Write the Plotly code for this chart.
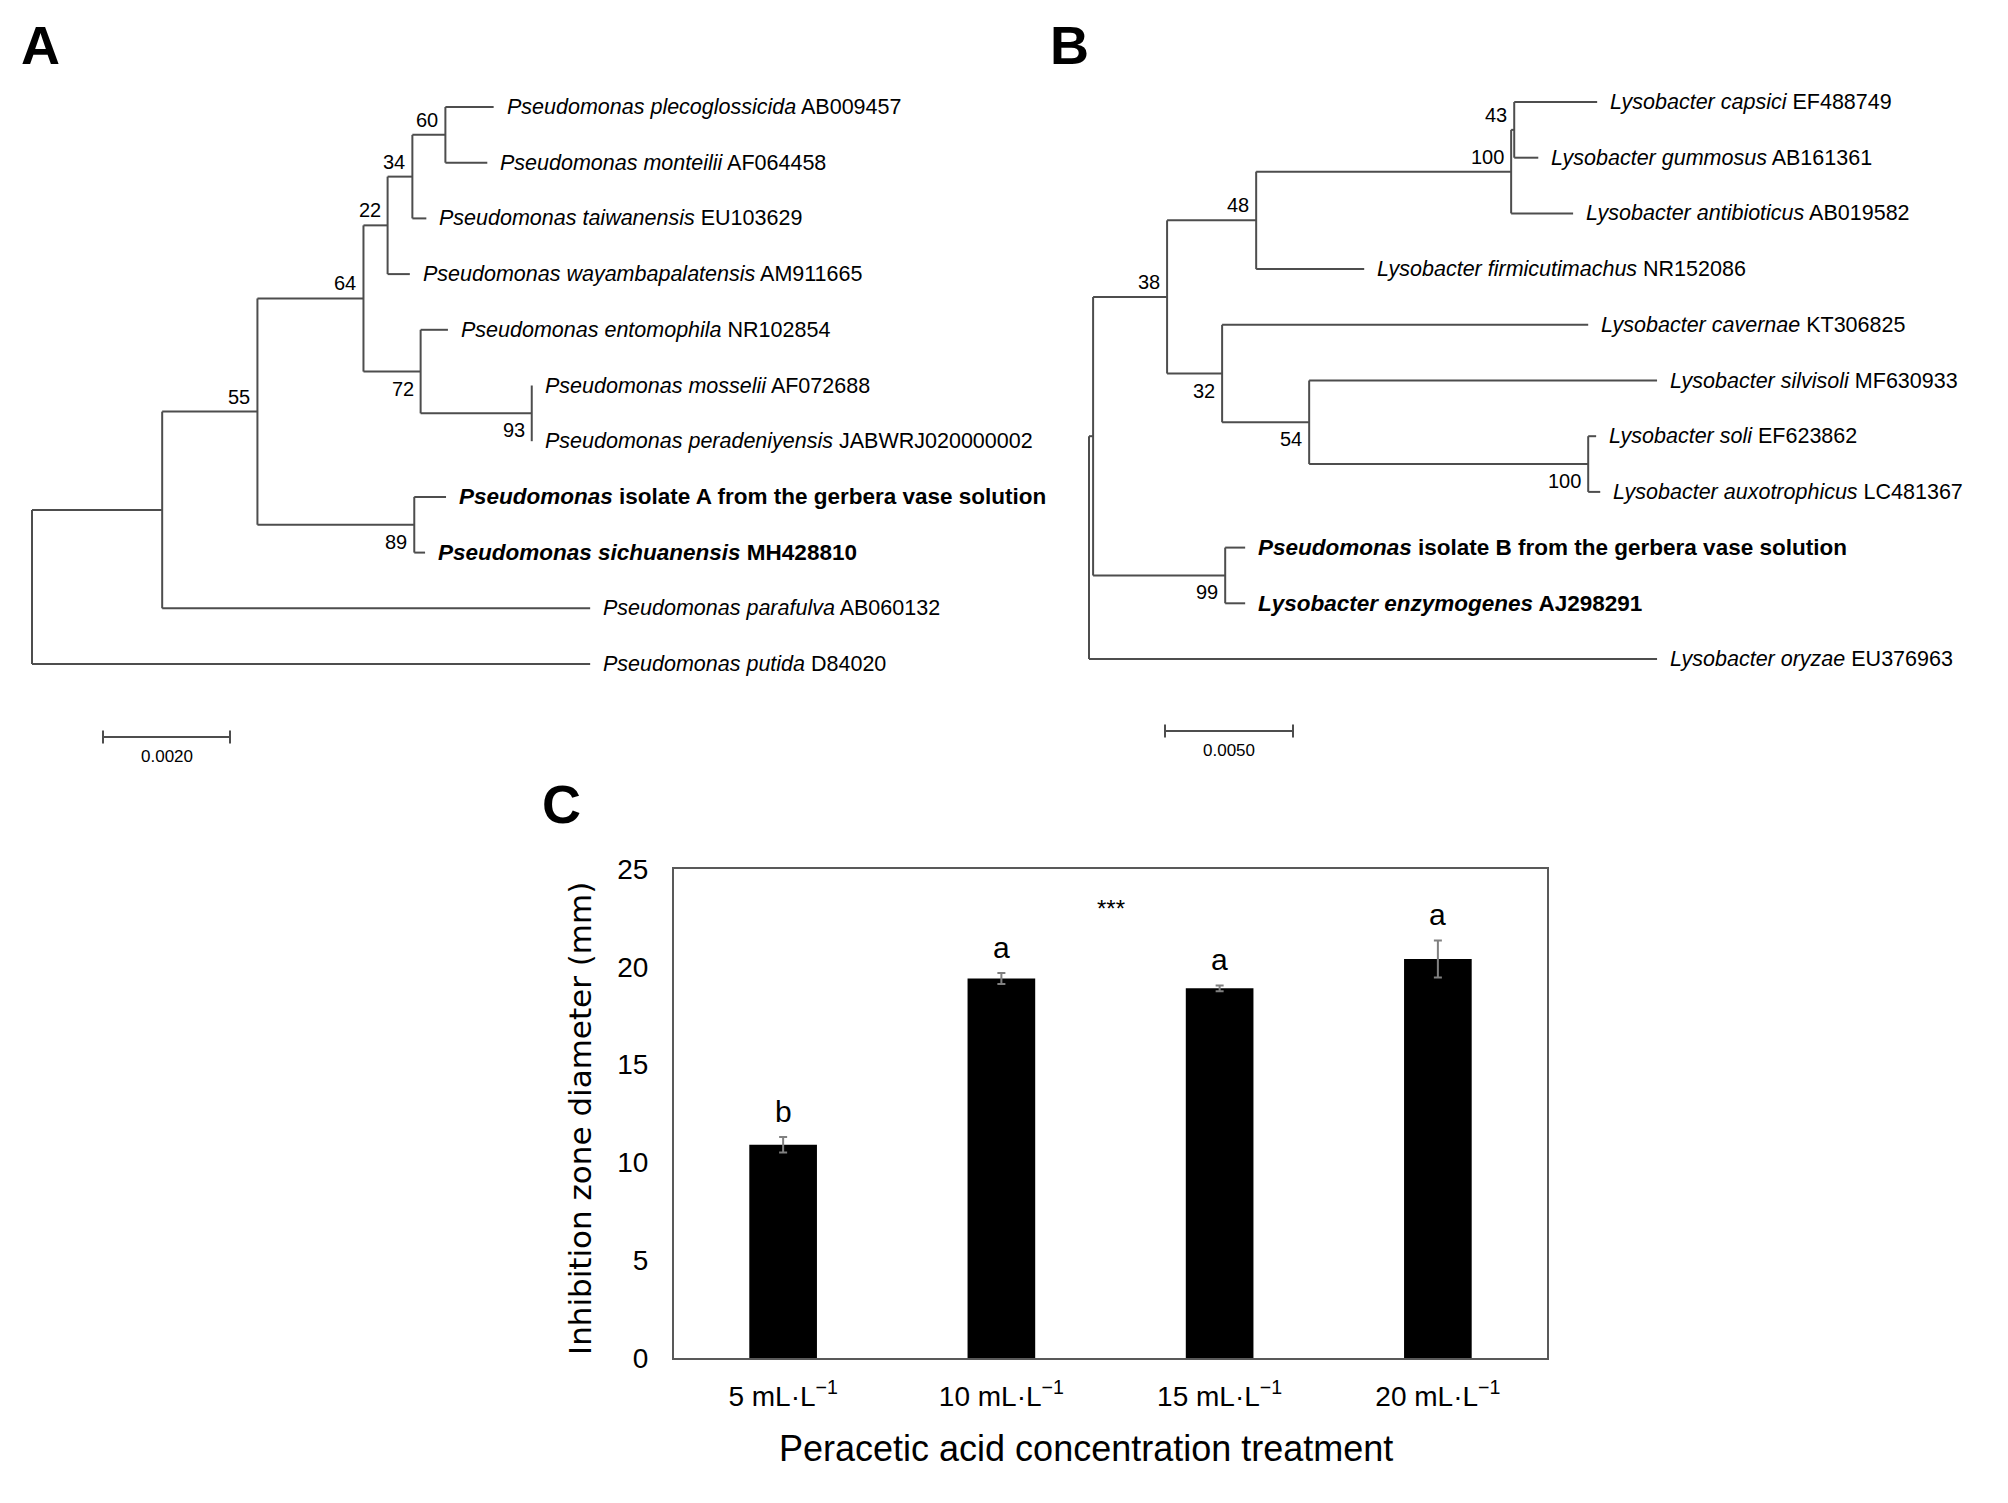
import plotly.graph_objects as go

# ================================================================
# Data
# ================================================================
# Tree A (Pseudomonas) - parent index, branch length (subst./site), bootstrap
a_parent = [-1, 0, 1, 2, 3, 4, 5, 6, 6, 5, 4, 3, 11, 11, 13, 13, 2, 16, 16, 1, 0]
a_length = [0, 0.00205, 0.00150, 0.00167, 0.00038, 0.00039, 0.00052, 0.00076,
            0.00066, 0.00022, 0.00035, 0.00090, 0.00043, 0.00175, 0.0, 0.0,
            0.00247, 0.00050, 0.00017, 0.00674, 0.00879]
a_support = [None, None, 55, 64, 22, 34, 60, None, None, None, None, 72, None,
             93, None, None, 89, None, None, None, None]
# leaves in tree order
a_species = ["Pseudomonas plecoglossicida", "Pseudomonas monteilii",
             "Pseudomonas taiwanensis", "Pseudomonas wayambapalatensis",
             "Pseudomonas entomophila", "Pseudomonas mosselii",
             "Pseudomonas peradeniyensis", "Pseudomonas",
             "Pseudomonas sichuanensis", "Pseudomonas parafulva",
             "Pseudomonas putida"]
a_suffix = ["AB009457", "AF064458", "EU103629", "AM911665", "NR102854",
            "AF072688", "JABWRJ020000002",
            "isolate A from the gerbera vase solution", "MH428810",
            "AB060132", "D84020"]
a_bold = [False, False, False, False, False, False, False, True, True, False, False]
a_scale = 0.0020

# Tree B (Lysobacter)
b_parent = [-1, 0, 1, 2, 3, 4, 5, 5, 4, 3, 2, 10, 10, 12, 12, 14, 14, 1, 17, 17, 0]
b_length = [0, 0.00016, 0.00289, 0.00348, 0.00996, 0.00012, 0.00324, 0.00094,
            0.00242, 0.00422, 0.00215, 0.01430, 0.00340, 0.01359, 0.01090,
            0.00031, 0.00047, 0.00516, 0.00078, 0.00078, 0.02219]
b_support = [None, None, 38, 48, 100, 43, None, None, None, None, 32, None, 54,
             None, 100, None, None, 99, None, None, None]
b_species = ["Lysobacter capsici", "Lysobacter gummosus", "Lysobacter antibioticus",
             "Lysobacter firmicutimachus", "Lysobacter cavernae",
             "Lysobacter silvisoli", "Lysobacter soli", "Lysobacter auxotrophicus",
             "Pseudomonas", "Lysobacter enzymogenes", "Lysobacter oryzae"]
b_suffix = ["EF488749", "AB161361", "AB019582", "NR152086", "KT306825",
            "MF630933", "EF623862", "LC481367",
            "isolate B from the gerbera vase solution", "AJ298291", "EU376963"]
b_bold = [False, False, False, False, False, False, False, False, True, True, False]
b_scale = 0.0050

# Panel C: inhibition zone diameter
treatments = ["5 mL·L<sup>\u22121</sup>", "10 mL·L<sup>\u22121</sup>",
              "15 mL·L<sup>\u22121</sup>", "20 mL·L<sup>\u22121</sup>"]
diameter = [10.9, 19.4, 18.9, 20.4]
diameter_err = [0.40, 0.28, 0.15, 0.95]
letters = ["b", "a", "a", "a"]
signif = "***"

# ================================================================
# Layout constants (pixels of the 2008x1503 canvas)
# ================================================================
W, H = 2008, 1503
FONT = "Liberation Sans, Arial, sans-serif"
LINE = "#4d4d4d"


def tree_geometry(parent, length):
    n = len(parent)
    children = [[] for _ in range(n)]
    for i, p in enumerate(parent):
        if p >= 0:
            children[p].append(i)
    depth = [0.0] * n
    for i in range(1, n):
        depth[i] = depth[parent[i]] + length[i]
    ypos = [0.0] * n
    leaves = []

    def walk(i):
        if not children[i]:
            ypos[i] = len(leaves)
            leaves.append(i)
        else:
            for c in children[i]:
                walk(c)
            ypos[i] = (ypos[children[i][0]] + ypos[children[i][-1]]) / 2

    walk(0)
    return children, depth, ypos, leaves


def add_tree(fig, parent, length, support, species, suffix, bold, scale,
             xa, ya, root_px, px_per_unit, top_px, step_px, bar_px, bar_y_px):
    children, depth, ypos, leaves = tree_geometry(parent, length)
    xs, ys = [], []
    for i in range(len(parent)):
        if parent[i] >= 0:
            xs += [depth[parent[i]], depth[i], None]
            ys += [ypos[i], ypos[i], None]
        if children[i]:
            xs += [depth[i], depth[i], None]
            ys += [ypos[children[i][0]], ypos[children[i][-1]], None]
    fig.add_trace(go.Scatter(x=xs, y=ys, mode="lines",
                             line=dict(color=LINE, width=2),
                             xaxis=xa, yaxis=ya, hoverinfo="skip",
                             showlegend=False))

    for k, leaf in enumerate(leaves):
        if bold[k]:
            txt = f"<b><i>{species[k]}</i> {suffix[k]}</b>"
            size = 22.5
        else:
            txt = f"<i>{species[k]}</i> {suffix[k]}"
            size = 21.5
        fig.add_annotation(x=depth[leaf], y=ypos[leaf], xref=xa, yref=ya,
                           text=txt, showarrow=False, xanchor="left",
                           yanchor="middle", xshift=11,
                           font=dict(family=FONT, size=size, color="black"))

    for i, s in enumerate(support):
        if s is None:
            continue
        first = children[parent[i]][0] == i
        fig.add_annotation(x=depth[i], y=ypos[i], xref=xa, yref=ya,
                           text=str(s), showarrow=False, xanchor="right",
                           yanchor="middle", xshift=-5,
                           yshift=15 if first else -17,
                           font=dict(family=FONT, size=20, color="black"))

    # scale bar
    x0 = (bar_px - root_px) / px_per_unit
    yb = (bar_y_px - top_px) / step_px
    tk = 6.5 / step_px
    fig.add_trace(go.Scatter(x=[x0, x0, None, x0, x0 + scale, None,
                                x0 + scale, x0 + scale],
                             y=[yb - tk, yb + tk, None, yb, yb, None,
                                yb - tk, yb + tk],
                             mode="lines", line=dict(color=LINE, width=2),
                             xaxis=xa, yaxis=ya, hoverinfo="skip",
                             showlegend=False))
    fig.add_annotation(x=x0 + scale / 2, y=yb, xref=xa, yref=ya,
                       text=f"{scale:.4f}", showarrow=False,
                       xanchor="center", yanchor="top",
                       yshift=-8, font=dict(family=FONT, size=17, color="black"))

    # axes: full-canvas domains so the tree keeps its pixel scale
    xaxis = dict(domain=[0, 1], range=[-root_px / px_per_unit,
                                       (W - root_px) / px_per_unit],
                 visible=False, fixedrange=True, automargin=False)
    yaxis = dict(domain=[0, 1], range=[(H - top_px) / step_px,
                                       -top_px / step_px],
                 visible=False, fixedrange=True, automargin=False)
    return xaxis, yaxis


fig = go.Figure()

xA, yA = add_tree(fig, a_parent, a_length, a_support, a_species, a_suffix,
                  a_bold, a_scale, "x", "y", root_px=32, px_per_unit=63500,
                  top_px=107, step_px=55.7, bar_px=103, bar_y_px=737)
xB, yB = add_tree(fig, b_parent, b_length, b_support, b_species, b_suffix,
                  b_bold, b_scale, "x2", "y2", root_px=1089, px_per_unit=25600,
                  top_px=102, step_px=55.7, bar_px=1165, bar_y_px=731)

# ---- Panel C bar chart
cat_idx = list(range(len(treatments)))
fig.add_trace(go.Bar(
    x=cat_idx, y=diameter, width=0.31,
    marker=dict(color="black", line=dict(width=0)),
    error_y=dict(type="data", array=diameter_err, color="#808080",
                 thickness=2, width=4),
    xaxis="x3", yaxis="y3", showlegend=False, hoverinfo="skip",
))

for i, (v, e, lt) in enumerate(zip(diameter, diameter_err, letters)):
    fig.add_annotation(x=i, y=v + e, xref="x3", yref="y3", text=lt,
                       showarrow=False, xanchor="center", yanchor="bottom",
                       yshift=7, font=dict(family=FONT, size=30, color="black"))
fig.add_annotation(x=(cat_idx[0] + cat_idx[-1]) / 2, y=23.0, xref="x3",
                   yref="y3", text=signif, showarrow=False,
                   xanchor="center", yanchor="middle",
                   font=dict(family=FONT, size=24, color="black"))

px_l, px_r, px_t, px_b = 674, 1547, 869, 1358

fig.add_annotation(x=1086 / W, y=1 - 1448 / H, xref="paper",
                   yref="paper", text="Peracetic acid concentration treatment",
                   showarrow=False, xanchor="center", yanchor="middle",
                   font=dict(family=FONT, size=36, color="black"))
fig.add_annotation(x=580 / W, y=1 - 1119 / H, xref="paper", yref="paper",
                   text="Inhibition zone diameter (mm)", textangle=-90,
                   showarrow=False, xanchor="center", yanchor="middle",
                   font=dict(family="DejaVu Sans, sans-serif", size=31,
                             color="black"))

# panel letters
for lab, px, py in [("A", 40, 45), ("B", 1069, 45), ("C", 561, 804)]:
    fig.add_annotation(x=px / W, y=1 - py / H, xref="paper", yref="paper",
                       text=f"<b>{lab}</b>", showarrow=False,
                       xanchor="center", yanchor="middle",
                       font=dict(family=FONT, size=54, color="black"))

fig.update_layout(
    width=W, height=H,
    margin=dict(l=0, r=0, t=0, b=0, pad=0, autoexpand=False),
    paper_bgcolor="white", plot_bgcolor="rgba(0,0,0,0)",
    xaxis=dict(xA, anchor="y"), yaxis=dict(yA, anchor="x"),
    xaxis2=dict(xB, anchor="y2"), yaxis2=dict(yB, anchor="x2"),
    xaxis3=dict(domain=[px_l / W, px_r / W], anchor="y3",
                range=[-0.5, len(treatments) - 0.5],
                tickvals=cat_idx, ticktext=treatments,
                tickfont=dict(family=FONT, size=28, color="black"),
                ticklabelstandoff=12, showgrid=False, zeroline=False,
                showline=True, mirror=True, linecolor="#595959", linewidth=2,
                ticks="", fixedrange=True, automargin=False),
    yaxis3=dict(domain=[1 - px_b / H, 1 - px_t / H], anchor="x3",
                range=[0, 25], dtick=5,
                tickfont=dict(family=FONT, size=28, color="black"),
                ticklabelstandoff=18, showgrid=False, zeroline=False,
                showline=True, mirror=True, linecolor="#595959", linewidth=2,
                ticks="", fixedrange=True, automargin=False),
)

fig.write_html("out.html", post_script="document.body.style.margin='0';",
               config={"displayModeBar": False})
